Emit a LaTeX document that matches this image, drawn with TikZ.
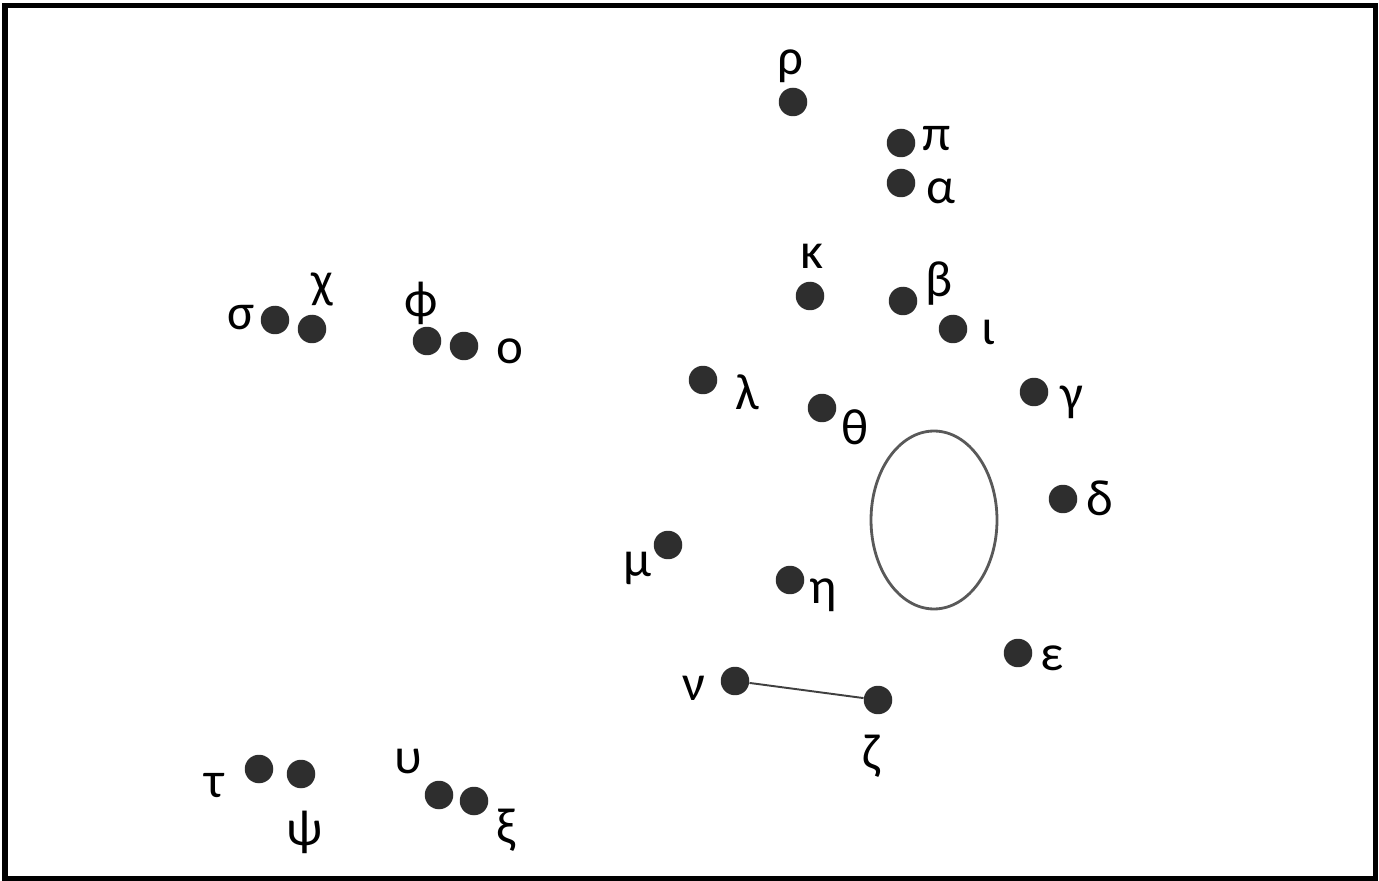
\documentclass[tikz,border=0pt]{standalone}
\usepackage{fontspec}
\setmainfont{Carlito}
\usepackage{tikz}

\tikzset{
	pt/.style={circle, fill=black!82, inner sep=0pt, minimum size=0.57cm},
	lbl/.style={inner sep=0pt, font=\fontsize{29}{30}\selectfont}
}

\begin{document}
\begin{tikzpicture}[x=0.02cm, y=-0.02cm]
	\useasboundingbox (0,0) rectangle (1379,881);
	\draw [line width=2.85pt] (5,6) rectangle (1375,878);
	
	% left group
	\node [pt] (sigma) at (275,320) {};
	\node [pt] (chi) at (312,329) {};
	\node [pt] (phi) at (427,341) {};
	\node [pt] (omicron) at (464,346) {};
	\node [lbl] (sigma-l) at (241,318) {σ};
	\node [lbl] (chi-l) at (322,289) {χ};
	\node [lbl] (phi-l) at (421,303) {ϕ};
	\node [lbl] (omicron-l) at (510,351) {ο};
	
	\node [pt] (tau) at (259,769) {};
	\node [pt] (psi) at (301,774) {};
	\node [pt] (upsilon) at (439,795) {};
	\node [pt] (xi) at (474,801) {};
	\node [lbl] (tau-l) at (214,786) {τ};
	\node [lbl] (psi-l) at (305,832) {ψ};
	\node [lbl] (upsilon-l) at (408,762) {υ};
	\node [lbl] (xi-l) at (506,830) {ξ};
	
	% right group
	\node [pt] (rho) at (793,102) {};
	\node [pt] (pi) at (901,143) {};
	\node [pt] (alpha) at (901,183) {};
	\node [lbl] (rho-l) at (790,66) {ρ};
	\node [lbl] (pi-l) at (937,139) {π};
	\node [lbl] (alpha-l) at (941,191) {α};
	
	\node [pt] (kappa) at (810,296) {};
	\node [pt] (beta) at (903,301) {};
	\node [pt] (iota) at (953,329) {};
	\node [lbl] (kappa-l) at (812,256) {κ};
	\node [lbl] (beta-l) at (939,284) {β};
	\node [lbl] (iota-l) at (988,332) {ι};
	
	\node [pt] (lambda) at (703,380) {};
	\node [pt] (theta) at (822,408) {};
	\node [pt] (gamma) at (1034,392) {};
	\node [lbl] (lambda-l) at (747,392) {λ};
	\node [lbl] (theta-l) at (855,427) {θ};
	\node [lbl] (gamma-l) at (1072,402) {γ};
	
	\node [pt] (delta) at (1063,499) {};
	\node [pt] (mu) at (668,545) {};
	\node [pt] (eta) at (790,580) {};
	\node [pt] (epsilon) at (1018,653) {};
	\node [lbl] (delta-l) at (1100,498) {δ};
	\node [lbl] (mu-l) at (637,568) {μ};
	\node [lbl] (eta-l) at (823,595) {η};
	\node [lbl] (epsilon-l) at (1052,658) {ε};
	
	\node [pt] (nu) at (735,681) {};
	\node [pt] (zeta) at (878,700) {};
	\node [lbl] (nu-l) at (694,688) {ν};
	\node [lbl] (zeta-l) at (871,756) {ζ};
	\draw [black!75, line width=1.1pt] (nu) -- (zeta);
	
	\draw [black!65, line width=1.6pt] (934,520) ellipse (1.26cm and 1.78cm);
\end{tikzpicture}
\end{document}
